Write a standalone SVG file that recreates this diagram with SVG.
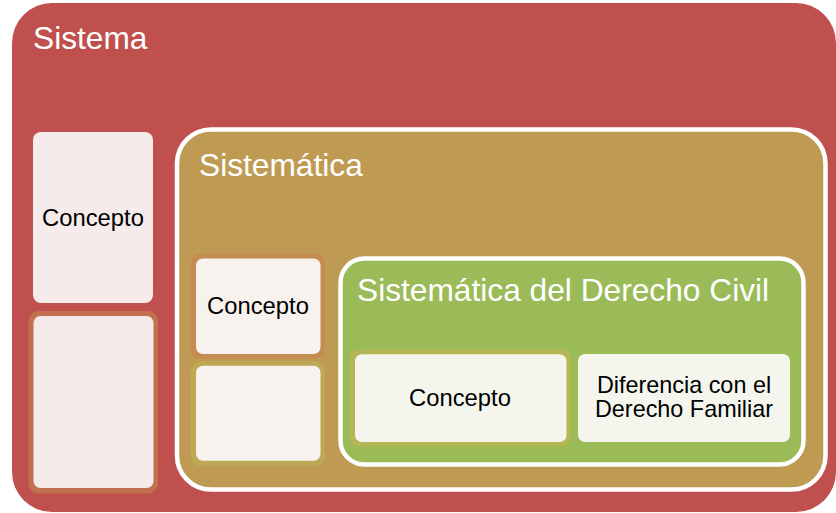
<svg xmlns="http://www.w3.org/2000/svg" width="836" height="513" viewBox="0 0 836 513">
<style>
.title{font-family:"Liberation Sans",Arial,sans-serif;font-size:31.7px;fill:#FFFFFF}
.lbl{font-family:"Liberation Sans",Arial,sans-serif;font-size:23.8px;fill:#000000;text-anchor:middle}
.lbl2{font-family:"Liberation Sans",Arial,sans-serif;font-size:23.4px;fill:#000000;text-anchor:middle}
.frame{stroke:#FFFFFF;stroke-width:4.5}
</style>
<rect width="836" height="513" fill="#FFFFFF"/>
<g id="sistema">
<rect x="12" y="3" width="824" height="509" rx="40" ry="40" fill="#C0504D"/>
<text class="title" x="33" y="48.5">Sistema</text>
</g>
<g id="sistema-concepto">
<rect x="33" y="132" width="120" height="171" rx="8" fill="#F6EBEB"/>
<text class="lbl" x="93" y="226">Concepto</text>
</g>
<g id="sistema-vacio">
<rect x="28.5" y="311" width="129.5" height="182.5" rx="10" fill="#C2704F"/>
<rect x="33.5" y="316" width="120" height="172" rx="7" fill="#F6EBEB"/>
</g>
<g id="sistematica">
<rect class="frame" x="177" y="129.5" width="648.5" height="360" rx="34" ry="34" fill="#BE9A53"/>
<text class="title" x="199" y="176">Sistemática</text>
</g>
<g id="sistematica-concepto">
<rect x="191" y="253.5" width="134" height="105" rx="9" fill="#C58C51"/>
<rect x="196" y="258.5" width="124.5" height="95.5" rx="7" fill="#F7F2EE"/>
<text class="lbl" x="258" y="314">Concepto</text>
</g>
<g id="sistematica-vacio">
<rect x="191" y="361" width="134" height="105" rx="9" fill="#BDA954"/>
<rect x="196" y="365.7" width="124.5" height="95" rx="7" fill="#F7F2EE"/>
</g>
<g id="derecho-civil">
<rect class="frame" x="340.5" y="258.5" width="463" height="206" rx="24" ry="24" fill="#9BBB59"/>
<text class="title" x="357" y="300.7">Sistemática del Derecho Civil</text>
</g>
<g id="civil-concepto">
<rect x="350" y="349.5" width="221" height="97" rx="9" fill="#B5B757"/>
<rect x="355" y="354.3" width="211.5" height="87.7" rx="7" fill="#F4F6EE"/>
<text class="lbl" x="460" y="405.7">Concepto</text>
</g>
<g id="civil-diferencia">
<rect x="578" y="354" width="212" height="88" rx="7" fill="#F4F6EE"/>
<text class="lbl2" x="684" y="392.7">Diferencia con el</text>
<text class="lbl2" x="684" y="417.3">Derecho Familiar</text>
</g>
<g id="connectors"></g>
</svg>
